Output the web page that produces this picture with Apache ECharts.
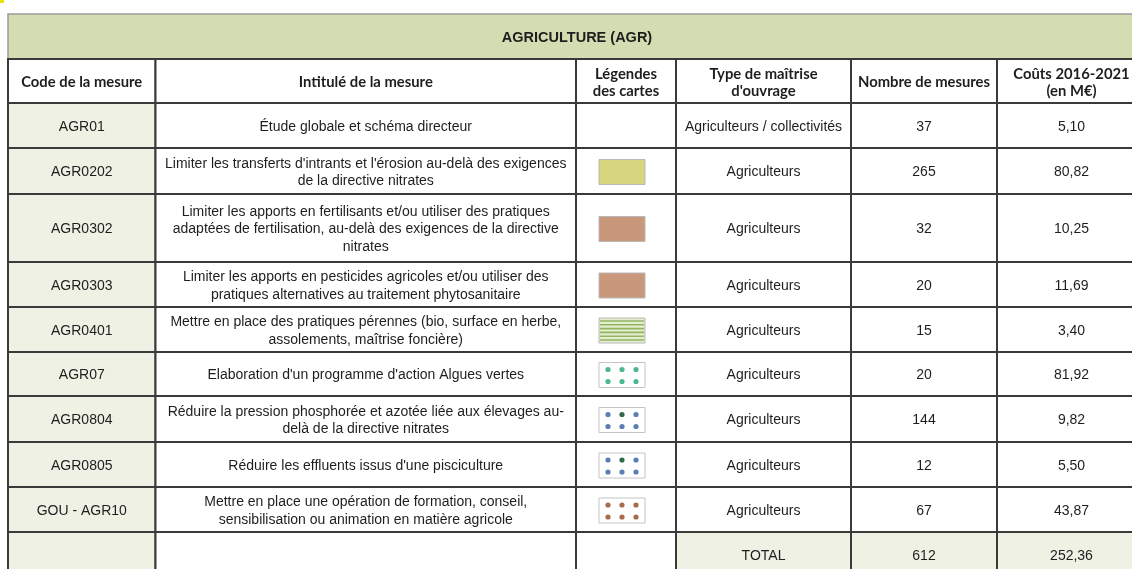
<!DOCTYPE html>
<html><head><meta charset="utf-8">
<script src="https://cdn.jsdelivr.net/npm/echarts@6/dist/echarts.min.js"></script>
<style>html,body{margin:0;padding:0;background:#fff}#c{width:1132px;height:569px}</style>
</head><body><div id="c"></div>
<script>
// ---------- data ----------
const tableTitle = 'AGRICULTURE (AGR)';
const headers = ['Code de la mesure', 'Intitulé de la mesure', 'Légendes\ndes cartes', "Type de maîtrise\nd'ouvrage", 'Nombre de mesures', 'Coûts 2016-2021\n(en M€)'];
const codes = ['AGR01', 'AGR0202', 'AGR0302', 'AGR0303', 'AGR0401', 'AGR07', 'AGR0804', 'AGR0805', 'GOU - AGR10'];
const titles = [
  'Étude globale et schéma directeur',
  "Limiter les transferts d'intrants et l'érosion au-delà des exigences\nde la directive nitrates",
  'Limiter les apports en fertilisants et/ou utiliser des pratiques\nadaptées de fertilisation, au-delà des exigences de la directive\nnitrates',
  'Limiter les apports en pesticides agricoles et/ou utiliser des\npratiques alternatives au traitement phytosanitaire',
  'Mettre en place des pratiques pérennes (bio, surface en herbe,\nassolements, maîtrise foncière)',
  "Elaboration d'un programme d'action Algues vertes",
  'Réduire la pression phosphorée et azotée liée aux élevages au-\ndelà de la directive nitrates',
  "Réduire les effluents issus d'une pisciculture",
  'Mettre en place une opération de formation, conseil,\nsensibilisation ou animation en matière agricole'
];
const legendKeys = ['', 'aplatJaune', 'aplatBrun', 'aplatBrun', 'hachuresVertes', 'pointsVerts', 'pointsBleus', 'pointsBleus', 'pointsBruns'];
const owners = ['Agriculteurs / collectivités', 'Agriculteurs', 'Agriculteurs', 'Agriculteurs', 'Agriculteurs', 'Agriculteurs', 'Agriculteurs', 'Agriculteurs', 'Agriculteurs'];
const counts = [37, 265, 32, 20, 15, 20, 144, 12, 67];
const costs = [5.10, 80.82, 10.25, 11.69, 3.40, 81.92, 9.82, 5.50, 43.87];
const totalLabel = 'TOTAL';
const totalCount = 612;
const totalCost = 252.36;

// ---------- layout & styles ----------
const colEdges = [0, 147.5, 568, 668, 843, 989, 1138];
const rowEdges = [0, 45, 89, 134, 180, 248, 293, 338, 382, 428, 473, 518, 563];
const VIEW_W = 1124, VIEW_H = 555;
const C_TITLE = '#d3ddb1', C_LIGHT = '#eef1e3', C_WHITE = '#ffffff', C_LINE = '#3a3a3a';
const FONT_BODY = '14px "Liberation Sans", Arial, sans-serif';
const FONT_HEAD = 'bold 14.8px Lato, "Liberation Sans", sans-serif';
const FONT_TITLE = 'bold 14.5px "Liberation Sans", Arial, sans-serif';
const swatchStyles = {
  aplatJaune: {kind: 'solid', color: '#d5d57e'},
  aplatBrun: {kind: 'solid', color: '#c9977a'},
  hachuresVertes: {kind: 'stripes', color: '#e4eecd', line: '#93b563'},
  pointsVerts: {kind: 'dots', colors: ['#4cb88c', '#4cb88c', '#4cb88c', '#4cb88c', '#4cb88c', '#4cb88c']},
  pointsBleus: {kind: 'dots', colors: ['#5b7fb3', '#2f6b4b', '#5b7fb3', '#5b7fb3', '#5b7fb3', '#5b7fb3']},
  pointsBruns: {kind: 'dots', colors: ['#a86b4c', '#a86b4c', '#a86b4c', '#a86b4c', '#a86b4c', '#a86b4c']}
};
const fmt = v => v.toFixed(2).replace('.', ',');

// ---------- build cells ----------
const cells = [];
function addCell(c0, c1, r, text, fill, font, swatch) {
  cells.push({value: [colEdges[c0], colEdges[c1], rowEdges[r], rowEdges[r + 1]], text, fill, font, swatch, title: r === 0});
}
addCell(0, 6, 0, tableTitle, C_TITLE, FONT_TITLE);
headers.forEach((h, i) => addCell(i, i + 1, 1, h, C_WHITE, FONT_HEAD));
codes.forEach((code, i) => {
  const r = i + 2;
  addCell(0, 1, r, code, C_LIGHT, FONT_BODY);
  addCell(1, 2, r, titles[i], C_WHITE, FONT_BODY);
  addCell(2, 3, r, '', C_WHITE, FONT_BODY, legendKeys[i]);
  addCell(3, 4, r, owners[i], C_WHITE, FONT_BODY);
  addCell(4, 5, r, String(counts[i]), C_WHITE, FONT_BODY);
  addCell(5, 6, r, fmt(costs[i]), C_WHITE, FONT_BODY);
});
addCell(0, 1, 11, '', C_LIGHT, FONT_BODY);
addCell(1, 2, 11, '', C_WHITE, FONT_BODY);
addCell(2, 3, 11, '', C_WHITE, FONT_BODY);
addCell(3, 4, 11, totalLabel, C_LIGHT, FONT_BODY);
addCell(4, 5, 11, String(totalCount), C_LIGHT, FONT_BODY);
addCell(5, 6, 11, fmt(totalCost), C_LIGHT, FONT_BODY);

function swatchElements(key, cx, cy) {
  const s = swatchStyles[key];
  if (!s) return [];
  const w = 46, h = 25, x = cx - w / 2 - 4, y = cy - h / 2 + 1;
  const els = [];
  if (s.kind === 'solid') {
    els.push({type: 'rect', shape: {x, y, width: w, height: h}, style: {fill: s.color, stroke: '#b8b8b8', lineWidth: 1}});
  } else if (s.kind === 'stripes') {
    els.push({type: 'rect', shape: {x, y, width: w, height: h}, style: {fill: s.color, stroke: '#b8b8b8', lineWidth: 1}});
    for (let k = 0; k < 6; k++) {
      const yy = y + 3 + k * 3.8;
      els.push({type: 'line', shape: {x1: x + 1, y1: yy, x2: x + w - 1, y2: yy}, style: {stroke: s.line, lineWidth: 1.6}});
    }
  } else {
    els.push({type: 'rect', shape: {x, y, width: w, height: h}, style: {fill: '#ffffff', stroke: '#c4c4c4', lineWidth: 1}});
    s.colors.forEach((col, k) => {
      const cxx = x + 9 + (k % 3) * 14, cyy = y + 7 + Math.floor(k / 3) * 12;
      els.push({type: 'circle', shape: {cx: cxx, cy: cyy, r: 2.6}, style: {fill: col}});
    });
  }
  return els;
}

const chart = echarts.init(document.getElementById('c'), null, {renderer: 'canvas'});
chart.setOption({
  animation: false,
  backgroundColor: '#ffffff',
  grid: {left: 8, top: 14, right: 0, bottom: 0},
  xAxis: {type: 'value', min: 0, max: VIEW_W, show: false},
  yAxis: {type: 'value', min: 0, max: VIEW_H, inverse: true, show: false},
  graphic: [{type: 'rect', left: 0, top: 0, shape: {width: 4, height: 3}, style: {fill: '#e8e400'}}],
  series: [{
    type: 'custom',
    clip: false,
    encode: {x: [0, 1], y: [2, 3]},
    data: cells.map(c => c.value),
    renderItem: function (params, api) {
      const cell = cells[params.dataIndex];
      const p0 = api.coord([api.value(0), api.value(2)]);
      const p1 = api.coord([api.value(1), api.value(3)]);
      const x = p0[0], y = p0[1], w = p1[0] - p0[0], h = p1[1] - p0[1];
      const children = [{
        type: 'rect', shape: {x, y, width: w, height: h},
        style: {fill: cell.fill, stroke: cell.title ? '#9c9c9c' : C_LINE, lineWidth: cell.title ? 1.5 : 2}
      }];
      if (cell.text) {
        children.push({
          type: 'text', x: x + w / 2, y: y + h / 2 + 1.5,
          style: {text: cell.text, font: cell.font, fill: '#1e1e1e', align: 'center', verticalAlign: 'middle', lineHeight: 17.5}
        });
      }
      if (cell.swatch) children.push(...swatchElements(cell.swatch, x + w / 2, y + h / 2));
      return {type: 'group', children};
    }
  }]
});
</script></body></html>
